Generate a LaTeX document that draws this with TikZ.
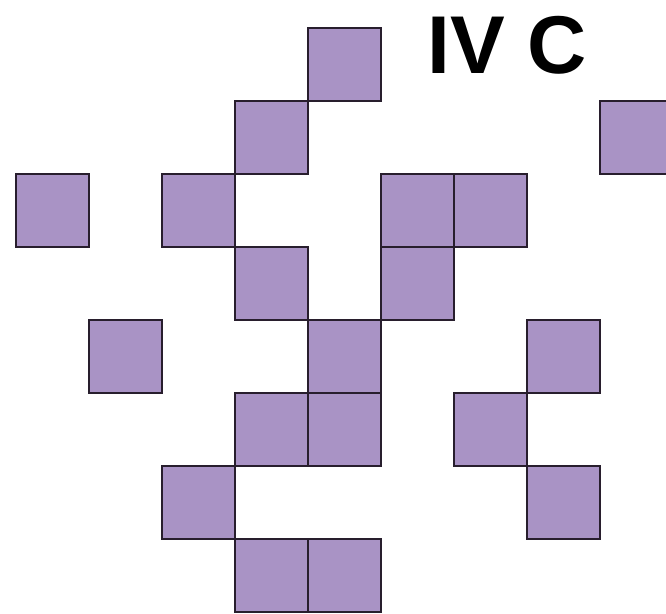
\documentclass[tikz,border=0pt]{standalone}
\usepackage{fontspec}
\setmainfont{Liberation Sans}
\definecolor{cellfill}{RGB}{169,147,197}
\definecolor{celledge}{RGB}{40,30,45}
\begin{document}
\begin{tikzpicture}[x=1pt,y=-1pt,
  cell/.style={draw=celledge,fill=cellfill,line width=2.9pt,minimum size=73pt,inner sep=0pt,outer sep=0pt,rectangle}]
\useasboundingbox (0,0) rectangle (666,613);
\clip (0,0) rectangle (666,613);
\fill[white] (0,0) rectangle (666,613);
\foreach \c/\r [count=\i] in {4/0,3/1,8/1,0/2,2/2,5/2,6/2,3/3,5/3,1/4,4/4,7/4,3/5,4/5,6/5,2/6,7/6,3/7,4/7}{
  \node[cell] (s\i) at ({16+73*\c+36.5},{28+73*\r+36.5}) {};
}
\node[anchor=base west,inner sep=0pt,font=\fontsize{82}{82}\selectfont\bfseries] (title) at (427,73) {IV C};
\end{tikzpicture}
\end{document}
